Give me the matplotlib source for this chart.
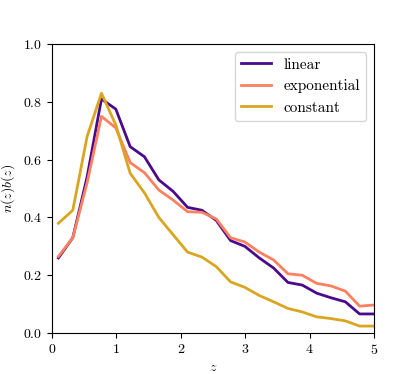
import matplotlib
matplotlib.use("Agg")
import matplotlib.pyplot as plt

# redshift grid
z = [0.100, 0.323, 0.545, 0.768, 0.991, 1.214, 1.436, 1.659, 1.882, 2.105, 2.327, 2.550,
     2.773, 2.995, 3.218, 3.441, 3.664, 3.886, 4.109, 4.332, 4.555, 4.777, 5.000]

# n(z)b(z) for each bias model
nb_linear = [0.26, 0.33, 0.54, 0.81, 0.775, 0.645, 0.61, 0.53, 0.49, 0.435, 0.425, 0.39,
             0.32, 0.30, 0.26, 0.225, 0.175, 0.166, 0.138, 0.122, 0.108, 0.066, 0.066]
nb_exponential = [0.265, 0.33, 0.52, 0.75, 0.71, 0.59, 0.555, 0.495, 0.46, 0.42, 0.418, 0.395,
                  0.33, 0.315, 0.28, 0.253, 0.205, 0.20, 0.172, 0.163, 0.145, 0.093, 0.097]
nb_constant = [0.38, 0.425, 0.68, 0.83, 0.72, 0.553, 0.485, 0.40, 0.34, 0.28, 0.263, 0.23,
               0.177, 0.158, 0.13, 0.108, 0.085, 0.073, 0.056, 0.05, 0.042, 0.024, 0.024]

plt.rcParams['font.family'] = 'cmr10'
plt.rcParams['mathtext.fontset'] = 'cm'
plt.rcParams['axes.formatter.use_mathtext'] = True
plt.rcParams['font.size'] = 10

fig = plt.figure(figsize=(4.16, 3.74), dpi=100)
ax = fig.add_axes([0.125, 0.1096, 0.774, 0.7724])

ax.plot(z, nb_linear, color='#4b0a8b', lw=2, label='linear')
ax.plot(z, nb_exponential, color='#fd8060', lw=2, label='exponential')
ax.plot(z, nb_constant, color='#daa520', lw=2, label='constant')

ax.set_xlim(0, 5)
ax.set_ylim(0, 1)
ax.set_xlabel('$z$')
ax.set_ylabel('$n(z)b(z)$')
ax.legend(loc='upper right', fontsize=11)

fig.savefig('out.png', dpi=100)
